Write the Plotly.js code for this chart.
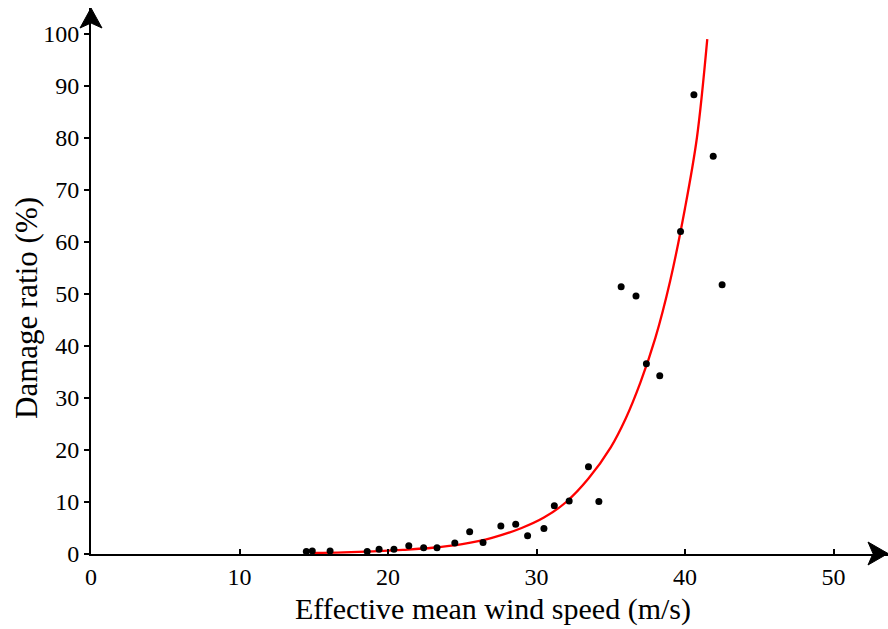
<!DOCTYPE html>
<html>
<head>
<meta charset="utf-8">
<script src="https://cdn.plot.ly/plotly-3.0.1.min.js"></script>
<style>html,body{margin:0;padding:0;background:#fff;}#chart{width:888px;height:629px;}</style>
</head>
<body>
<div id="chart"></div>
<script>
// Observed points
const windSpeed = [14.5, 14.9, 16.1, 18.6, 19.4, 20.4, 21.4, 22.4, 23.3, 24.5, 25.5, 26.4, 27.6, 28.6, 29.4, 30.5, 31.2, 32.2, 33.5, 34.2, 35.7, 36.7, 37.4, 38.3, 39.7, 40.6, 41.9, 42.5];
const damageRatio = [0.5, 0.6, 0.6, 0.5, 0.9, 0.9, 1.6, 1.2, 1.2, 2.1, 4.3, 2.2, 5.4, 5.7, 3.5, 4.9, 9.3, 10.2, 16.8, 10.1, 51.4, 49.6, 36.6, 34.3, 62.0, 88.3, 76.5, 51.8];
// Fitted curve
const curveX = [15.0, 17.0, 19.0, 21.0, 23.0, 25.0, 27.0, 29.0, 30.5, 32.0, 33.5, 35.0, 36.0, 37.0, 38.0, 39.0, 40.0, 40.8, 41.5];
const curveY = [0.2, 0.3, 0.5, 0.8, 1.2, 1.9, 3.1, 5.0, 7.0, 10.0, 14.5, 20.5, 26.0, 33.0, 41.5, 52.5, 66.5, 80.0, 99.0];
const xTicks = [0, 10, 20, 30, 40, 50];
const yTicks = [0, 10, 20, 30, 40, 50, 60, 70, 80, 90, 100];
const xTitle = 'Effective mean wind speed (m/s)';
const yTitle = 'Damage ratio (%)';

const W = 888, H = 629;
const L = 91, R = 0, T = 8, B = 75;
const pw = W - L - R, ph = H - T - B;
const px2x = p => (p - L) / pw;
const py2y = p => (H - B - p) / ph;

const fam = '"Liberation Serif", "Times New Roman", serif';
const font = {family: fam, color: '#000', size: 24};

const traces = [
  {x: curveX, y: curveY, mode: 'lines', type: 'scatter', line: {color: '#ff0000', width: 2.3, shape: 'spline'}, hoverinfo: 'skip'},
  {x: windSpeed, y: damageRatio, mode: 'markers', type: 'scatter', marker: {color: '#000', size: 7}}
];

const xArrow = `M ${px2x(888)},${py2y(553.5)} L ${px2x(868)},${py2y(542)} L ${px2x(873)},${py2y(553.5)} L ${px2x(868)},${py2y(565)} Z`;
const yArrow = `M ${px2x(91)},${py2y(8)} L ${px2x(80)},${py2y(28)} L ${px2x(91)},${py2y(23)} L ${px2x(102)},${py2y(28)} Z`;

const layout = {
  width: W, height: H,
  margin: {l: L, r: R, t: T, b: B, pad: 0},
  paper_bgcolor: '#fff', plot_bgcolor: '#fff',
  showlegend: false,
  font: font,
  xaxis: {
    range: [0, pw / 14.85], tickvals: xTicks, ticktext: xTicks.map(String),
    showgrid: false, zeroline: false, showline: true, linecolor: '#000', linewidth: 2,
    ticks: 'inside', ticklen: 5, tickwidth: 2, tickcolor: '#000',
    tickfont: font, automargin: false
  },
  yaxis: {
    range: [0, ph / 5.2], tickvals: yTicks, ticktext: yTicks.map(String),
    showgrid: false, zeroline: false, showline: true, linecolor: '#000', linewidth: 2,
    ticks: 'outside', ticklen: 5, tickwidth: 2, tickcolor: '#000',
    tickfont: font, automargin: false
  },
  annotations: [
    {text: xTitle, xref: 'paper', yref: 'paper', x: px2x(493), y: py2y(609), xanchor: 'center', yanchor: 'middle', showarrow: false, font: {family: fam, size: 30, color: '#000'}},
    {text: yTitle, xref: 'paper', yref: 'paper', x: px2x(26), y: py2y(308), xanchor: 'center', yanchor: 'middle', textangle: -90, showarrow: false, font: {family: fam, size: 31, color: '#000'}}
  ],
  shapes: [
    {type: 'path', xref: 'paper', yref: 'paper', path: xArrow, fillcolor: '#000', line: {color: '#000', width: 1}},
    {type: 'path', xref: 'paper', yref: 'paper', path: yArrow, fillcolor: '#000', line: {color: '#000', width: 1}}
  ]
};

Plotly.newPlot('chart', traces, layout, {displayModeBar: false, staticPlot: true});
</script>
</body>
</html>
